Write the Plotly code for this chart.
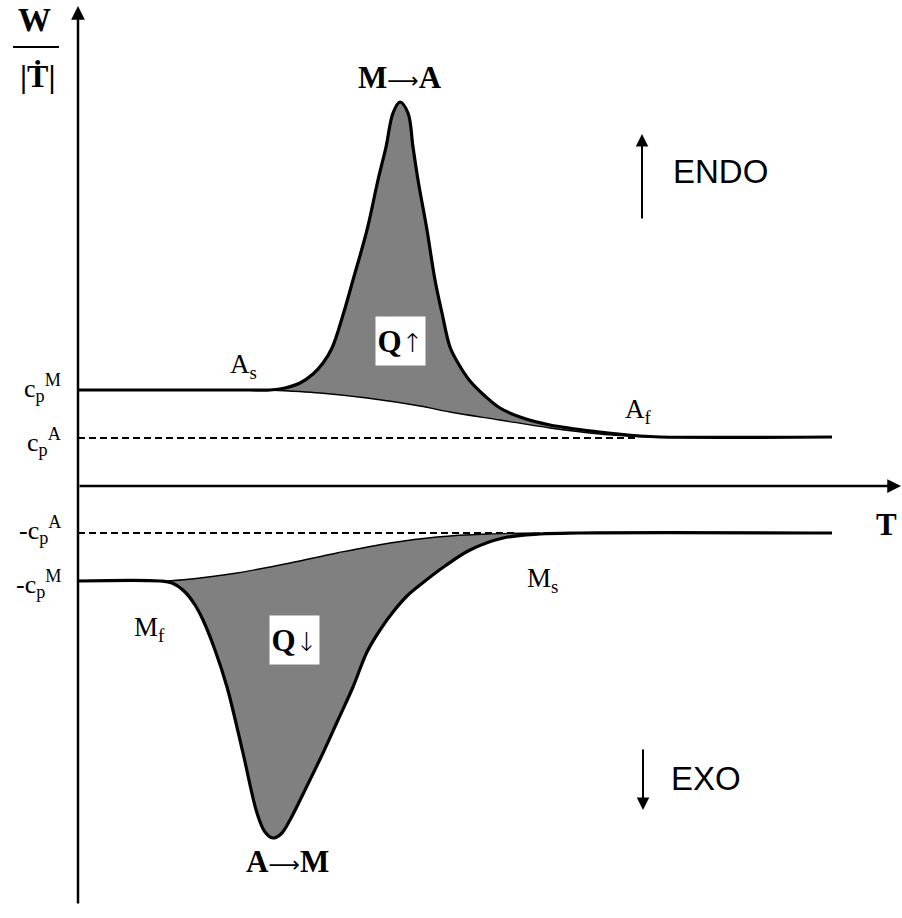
import numpy as np
import plotly.graph_objects as go

# ---- data (T, W) in schematic units; origin at axes crossing ----
CP_M = 96
CP_A = 48
NEG_CP_A = -47
NEG_CP_M = -95

# heating curve (M -> A), thick line
T_heat = [0, 172, 192, 207, 222, 235, 245, 254, 265, 275, 289, 300, 308, 315, 322,
          330, 335, 340, 349, 357, 364, 372, 380, 392, 407, 422, 442, 472, 522, 562, 582, 754]
W_heat = [96, 96, 96, 98, 103, 112, 123, 138, 171, 206, 256, 306, 339, 373, 384,
          373, 339, 306, 256, 206, 173, 139, 123, 105, 90, 78, 69, 61, 54, 50, 49, 49]
# heating interpolated baseline (thin)
T_heat_base = [192, 242, 289, 342, 372, 422, 472, 522, 572]
W_heat_base = [96, 93, 88, 80, 74, 66, 58, 52, 49]

# cooling curve (A -> M), thick line
T_cool = [0, 82, 94, 107, 117, 125, 137, 149, 165, 179, 187, 195, 203, 212, 227,
          245, 260, 275, 289, 302, 315, 329, 342, 367, 392, 425, 462, 502, 754]
W_cool = [-95, -95, -97, -106, -119, -134, -164, -201, -267, -327, -346, -352, -348,
          -334, -304, -267, -234, -201, -166, -144, -126, -110, -99, -80, -64, -52, -48, -47, -47]
# cooling interpolated baseline (thin)
T_cool_base = [90, 122, 159, 212, 259, 312, 359, 409, 462]
W_cool_base = [-95, -92, -87, -77, -67, -57, -51, -48, -47]

DASH_A_END = 560
DASH_NA_END = 440

# ---- pixel helper for layout items ----
X0, Y0 = 78, 486
def P(px, py):
    return px - X0, Y0 - py

SERIF = "Liberation Serif, Times New Roman, serif"
SANS = "Liberation Sans, Arial, sans-serif"
GRAY = "rgb(128,128,128)"

fig = go.Figure()

def fill_poly(Tc, Wc, Tb, Wb):
    Tc = np.array(Tc); Wc = np.array(Wc)
    m = (Tc > Tb[0]) & (Tc < Tb[-1])
    xs = [Tb[0]] + list(Tc[m]) + [Tb[-1]] + list(Tb[::-1])
    ys = [Wb[0]] + list(Wc[m]) + [Wb[-1]] + list(Wb[::-1])
    return xs, ys

for Tc, Wc, Tb, Wb in [(T_heat, W_heat, T_heat_base, W_heat_base),
                       (T_cool, W_cool, T_cool_base, W_cool_base)]:
    xs, ys = fill_poly(Tc, Wc, Tb, Wb)
    fig.add_trace(go.Scatter(x=xs, y=ys, mode="lines", fill="toself",
                             fillcolor=GRAY, line=dict(width=0, shape="spline", color=GRAY),
                             hoverinfo="skip", showlegend=False))

# dashed reference levels
fig.add_trace(go.Scatter(x=[0, DASH_A_END], y=[CP_A, CP_A], mode="lines",
                         line=dict(color="black", width=1.8, dash="7px,4px"), showlegend=False))
fig.add_trace(go.Scatter(x=[0, DASH_NA_END], y=[NEG_CP_A, NEG_CP_A], mode="lines",
                         line=dict(color="black", width=1.8, dash="7px,4px"), showlegend=False))

# thin baselines
for Tb, Wb in [(T_heat_base, W_heat_base), (T_cool_base, W_cool_base)]:
    fig.add_trace(go.Scatter(x=Tb, y=Wb, mode="lines",
                             line=dict(color="black", width=1.3, shape="spline"), showlegend=False))

# thick curves
for Tc, Wc in [(T_heat, W_heat), (T_cool, W_cool)]:
    fig.add_trace(go.Scatter(x=Tc, y=Wc, mode="lines",
                             line=dict(color="black", width=3.2, shape="spline", smoothing=1.0),
                             showlegend=False))

ann = []
def arrow(tip, tail, w, size):
    x, y = P(*tip); ax, ay = P(*tail)
    ann.append(dict(x=x, y=y, ax=ax, ay=ay, xref="x", yref="y", axref="x", ayref="y",
                    text="", showarrow=True, arrowhead=2, arrowsize=size, arrowwidth=w,
                    arrowcolor="black", standoff=0))

arrow((78, 6), (78, 905), 2.5, 1.1)
arrow((901, 486), (78, 486), 2.5, 1.1)
arrow((642, 134), (642, 220), 2.0, 1.25)
arrow((643, 810), (643, 748), 2.0, 1.25)

def text(px, py, s, size, font=SERIF, xanchor="center", yanchor="middle", **kw):
    x, y = P(px, py)
    ann.append(dict(x=x, y=y, xref="x", yref="y", text=s, showarrow=False,
                    font=dict(family=font, size=size, color="black"),
                    xanchor=xanchor, yanchor=yanchor, **kw))

ARW = "<span style='font-family:DejaVu Sans;font-size:22px'>⟶</span>"
UP = "<span style='font-family:DejaVu Sans;font-weight:200;font-size:26px'>↑</span>"
DN = "<span style='font-family:DejaVu Sans;font-weight:200;font-size:26px'>↓</span>"

text(34, 20, "<b>W</b>", 33)
text(37, 76, "<b>|Ṫ|</b>", 32)
text(400, 77, "<b>M</b>" + ARW + "<b>A</b>", 31)
text(287, 861, "<b>A</b>" + ARW + "<b>M</b>", 31)
text(720, 171, "ENDO", 33, font=SANS)
text(706, 778, "EXO", 33, font=SANS)
text(400, 341, "<b>Q</b>" + UP, 31, bgcolor="white", width=47, height=46)
text(294, 640, "<b>Q</b>" + DN, 31, bgcolor="white", width=47, height=46)
text(228, 366, "A<sub>s</sub>", 27, xanchor="left")
text(623, 411, "A<sub>f</sub>", 27, xanchor="left")
text(525, 580, "M<sub>s</sub>", 27, xanchor="left")
text(132, 629, "M<sub>f</sub>", 27, xanchor="left")
text(63, 388, "c<sub>p</sub><sup>M</sup>", 26, xanchor="right")
text(63, 442, "c<sub>p</sub><sup>A</sup>", 26, xanchor="right")
text(63, 530, "-c<sub>p</sub><sup>A</sup>", 26, xanchor="right")
text(63, 584, "-c<sub>p</sub><sup>M</sup>", 26, xanchor="right")
text(886, 524, "<b>T</b>", 31)

fx0, fy0 = P(13, 47); fx1, fy1 = P(59, 47)
fig.update_layout(
    shapes=[dict(type="line", x0=fx0, y0=fy0, x1=fx1, y1=fy1, xref="x", yref="y",
                 line=dict(color="black", width=2))],
    annotations=ann,
    width=902, height=918,
    margin=dict(l=0, r=0, t=0, b=0),
    paper_bgcolor="white", plot_bgcolor="white",
    xaxis=dict(range=[-X0, 902 - X0], visible=False, fixedrange=True),
    yaxis=dict(range=[Y0 - 918, Y0], visible=False, fixedrange=True),
    showlegend=False,
)
fig.write_html("out.html")
